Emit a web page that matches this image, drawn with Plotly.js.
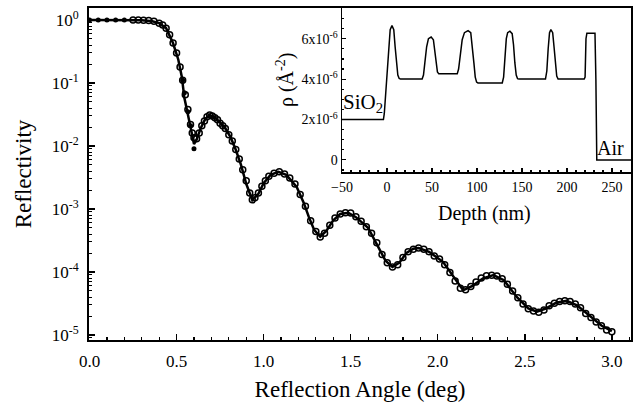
<!DOCTYPE html>
<html><head><meta charset="utf-8">
<script src="https://cdn.plot.ly/plotly-3.0.1.min.js"></script>
<style>html,body{margin:0;padding:0;background:#fff}#chart{width:636px;height:411px}</style>
</head><body><div id="chart"></div>
<script>
// ---- Main: reflectivity vs angle ----
const fitAngle = [0.00,0.10,0.20,0.30,0.36,0.40,0.44,0.48,0.51,0.53,0.545,0.56,0.58,0.60,0.615,0.64,0.665,0.69,0.72,0.75,0.78,0.81,0.84,0.87,0.90,0.935,0.97,1.00,1.04,1.085,1.13,1.19,1.23,1.26,1.29,1.325,1.36,1.40,1.44,1.486,1.53,1.60,1.67,1.70,1.74,1.78,1.82,1.86,1.89,1.95,2.03,2.09,2.146,2.20,2.26,2.32,2.38,2.455,2.52,2.57,2.62,2.68,2.74,2.80,2.875,2.94,3.00];
const fitR = [1,1,1,0.989,0.955,0.891,0.741,0.427,0.234,0.126,0.0575,0.0347,0.0200,0.0107,0.0126,0.0195,0.0269,0.0309,0.0282,0.0234,0.0191,0.0138,0.00871,0.00501,0.00251,0.00138,0.00174,0.00257,0.00347,0.00389,0.00347,0.00224,0.00126,0.000741,0.000468,0.000363,0.000447,0.000661,0.000832,0.000871,0.000741,0.000501,0.000224,0.000151,0.000120,0.000141,0.000200,0.000234,0.000240,0.000209,0.000145,8.32e-5,5.13e-5,6.03e-5,7.94e-5,8.91e-5,7.41e-5,3.98e-5,2.63e-5,2.34e-5,2.63e-5,3.24e-5,3.47e-5,2.95e-5,1.95e-5,1.41e-5,1.15e-5];

const filledAngle = [0.00,0.05,0.10,0.15,0.20,0.535,0.545,0.565,0.58,0.60];
const filledR = [1,1,1,1,1,0.11,0.07,0.035,0.021,0.0090];

const dataAngle = [0.25,0.28,0.31,0.34,0.37,0.40,0.42,0.44,0.46,0.48,0.50,0.52,0.535,0.55,0.565,0.58,0.59,0.60,0.615,0.63,0.645,0.66,0.675,0.69,0.705,0.72,0.735,0.75,0.765,0.78,0.80,0.82,0.84,0.86,0.88,0.90,0.92,0.935,0.95,0.97,0.99,1.01,1.03,1.06,1.09,1.12,1.15,1.18,1.21,1.24,1.27,1.30,1.325,1.35,1.38,1.41,1.44,1.47,1.50,1.53,1.56,1.59,1.62,1.65,1.68,1.71,1.74,1.77,1.80,1.83,1.86,1.89,1.92,1.95,1.98,2.01,2.04,2.07,2.10,2.13,2.16,2.19,2.22,2.25,2.28,2.31,2.34,2.37,2.40,2.43,2.46,2.49,2.52,2.55,2.58,2.61,2.64,2.67,2.70,2.73,2.76,2.79,2.82,2.85,2.88,2.91,2.94,2.97,3.00];
const dataR = [1.0,1.0,0.99,0.98,0.95,0.89,0.83,0.74,0.58,0.43,0.30,0.18,0.11,0.065,0.038,0.022,0.016,0.0135,0.013,0.016,0.021,0.025,0.029,0.031,0.030,0.028,0.026,0.023,0.021,0.019,0.015,0.012,0.0088,0.0062,0.0042,0.0028,0.0018,0.0014,0.0015,0.0018,0.0023,0.0028,0.0033,0.0037,0.0039,0.0036,0.0031,0.0025,0.0017,0.0011,0.00065,0.00044,0.00036,0.00041,0.00055,0.00072,0.00083,0.00087,0.00086,0.00075,0.00064,0.00052,0.00041,0.00029,0.00019,0.00014,0.00012,0.00013,0.00017,0.00021,0.00023,0.00024,0.00023,0.00021,0.00018,0.00016,0.00013,0.000098,0.000072,0.000055,0.000052,0.000059,0.000069,0.000080,0.000087,0.000089,0.000086,0.000078,0.000064,0.000050,0.000039,0.000031,0.000026,0.000024,0.000023,0.000025,0.000029,0.000032,0.000034,0.000035,0.000034,0.000031,0.000027,0.000022,0.000019,0.000016,0.000014,0.000012,0.0000112];

const mainYTickVals = [1,0.1,0.01,0.001,0.0001,0.00001];
const mainYTickText = ['10<sup>0</sup>','10<sup>-1</sup>','10<sup>-2</sup>','10<sup>-3</sup>','10<sup>-4</sup>','10<sup>-5</sup>'];

// ---- Inset: SLD profile (units of 1e-6 Å^-2) ----
const depth = [-50,-4,-3,-1.5,0.5,2,3.5,5.5,7.5,9,10.5,12,13.5,15,39,40.5,42,44,46,49,51.5,53,54.5,56,57.5,78,79.5,81.5,83.5,86,90,93,95,96.5,98,99.5,101,128,129.5,131,132.5,134,136.5,139,140.5,142,143.5,145,146.5,176,177.5,179,180.5,182,184,185.5,187,188.5,190,219,220,221,222,231,232,233,271];
const rho = [2.0,2.0,2.3,3.2,4.6,5.8,6.45,6.65,6.45,5.6,4.7,4.2,4.03,4.0,4.0,4.2,4.8,5.6,6.0,6.08,5.95,5.4,4.7,4.35,4.26,4.26,4.5,5.3,5.95,6.3,6.4,6.3,5.6,4.8,4.1,3.85,3.81,3.81,4.1,5.0,6.0,6.3,6.37,6.25,5.7,4.8,4.2,4.02,4.0,4.0,4.4,5.5,6.3,6.45,6.3,5.6,4.7,4.15,4.0,4.0,4.1,6.0,6.27,6.27,4.0,0.0,0.0];
const insetYTickVals = [0,2,4,6];
const insetYTickText = ['0','2x10<sup>-6</sup>','4x10<sup>-6</sup>','6x10<sup>-6</sup>'];

const F = 'Liberation Serif';

const traces = [
  {x: fitAngle, y: fitR, mode:'lines', line:{color:'#000', width:2.5}, xaxis:'x', yaxis:'y', hoverinfo:'skip'},
  {x: dataAngle, y: dataR, mode:'markers', marker:{symbol:'circle-open', size:6, color:'#000', line:{width:1.5, color:'#000'}}, xaxis:'x', yaxis:'y'},
  {x: filledAngle, y: filledR, mode:'markers', marker:{symbol:'circle', size:5, color:'#000'}, xaxis:'x', yaxis:'y'},
  {x: depth, y: rho, mode:'lines', line:{color:'#000', width:1.5}, xaxis:'x2', yaxis:'y2'}
];

const layout = {
  width:636, height:411,
  margin:{l:89, r:5, t:8, b:71},
  paper_bgcolor:'#fff', plot_bgcolor:'#fff',
  showlegend:false,
  font:{family:F, color:'#000'},
  xaxis:{
    domain:[0,1], range:[-0.003,3.11], showline:true, linewidth:2, linecolor:'#000', mirror:true,
    ticks:'inside', ticklen:6, tickwidth:1.5, tickcolor:'#000', dtick:0.5, tick0:0, tickformat:'.1f',
    minor:{ticks:'inside', ticklen:3, tickwidth:1.2, dtick:0.1, tickcolor:'#000'},
    showgrid:false, zeroline:false, tickfont:{size:17, family:F}, ticklabelstandoff:5,
    title:{text:'Reflection Angle (deg)', font:{size:23, family:F}, standoff:10}
  },
  yaxis:{
    type:'log', domain:[0,1], range:[-5.08,0.19], showline:true, linewidth:2, linecolor:'#000', mirror:true,
    ticks:'inside', ticklen:6, tickwidth:1.5, tickcolor:'#000',
    tickvals:mainYTickVals, ticktext:mainYTickText,
    minor:{ticks:'inside', ticklen:3, tickwidth:1, dtick:'D1', tickcolor:'#000'},
    showgrid:false, zeroline:false, tickfont:{size:17, family:F}, ticklabelstandoff:5,
    title:{text:'Reflectivity', font:{size:23, family:F}, standoff:14}
  },
  xaxis2:{
    domain:[0.4668,1], anchor:'y2', range:[-50,271], showline:true, linewidth:1.5, linecolor:'#000',
    ticks:'inside', ticklen:4, tickwidth:1.2, tickcolor:'#000', dtick:50, tick0:0,
    minor:{ticks:'inside', ticklen:2, dtick:10, tickcolor:'#000'},
    showgrid:false, zeroline:false, tickfont:{size:14, family:F}, ticklabelstandoff:2
  },
  yaxis2:{
    domain:[0.506,1], anchor:'x2', range:[-0.6,7.52], showline:true, linewidth:1.5, linecolor:'#000',
    ticks:'inside', ticklen:4, tickwidth:1.2, tickcolor:'#000',
    tickvals:insetYTickVals, ticktext:insetYTickText,
    minor:{ticks:'inside', ticklen:2, dtick:0.5, tickcolor:'#000'},
    showgrid:false, zeroline:false, tickfont:{size:14, family:F}
  },
  annotations:[
    {text:'ρ (Å<sup>-2</sup>)', xref:'paper', yref:'paper', x:0.3616, y:0.783, textangle:-90, showarrow:false, font:{size:20, family:F}, xanchor:'center', yanchor:'middle'},
    {text:'Depth (nm)', xref:'paper', yref:'paper', x:0.7306, y:0.3825, showarrow:false, font:{size:20, family:F}, xanchor:'center', yanchor:'middle'},
    {text:'SiO<sub>2</sub>', xref:'x2', yref:'y2', x:-50, y:2.05, xanchor:'left', yanchor:'bottom', showarrow:false, font:{size:21, family:F}, xshift:-1},
    {text:'Air', xref:'x2', yref:'y2', x:248, y:0.6, xanchor:'center', yanchor:'middle', showarrow:false, font:{size:20, family:F}}
  ]
};

Plotly.newPlot('chart', traces, layout, {staticPlot:true, displayModeBar:false});
</script>
</body></html>
